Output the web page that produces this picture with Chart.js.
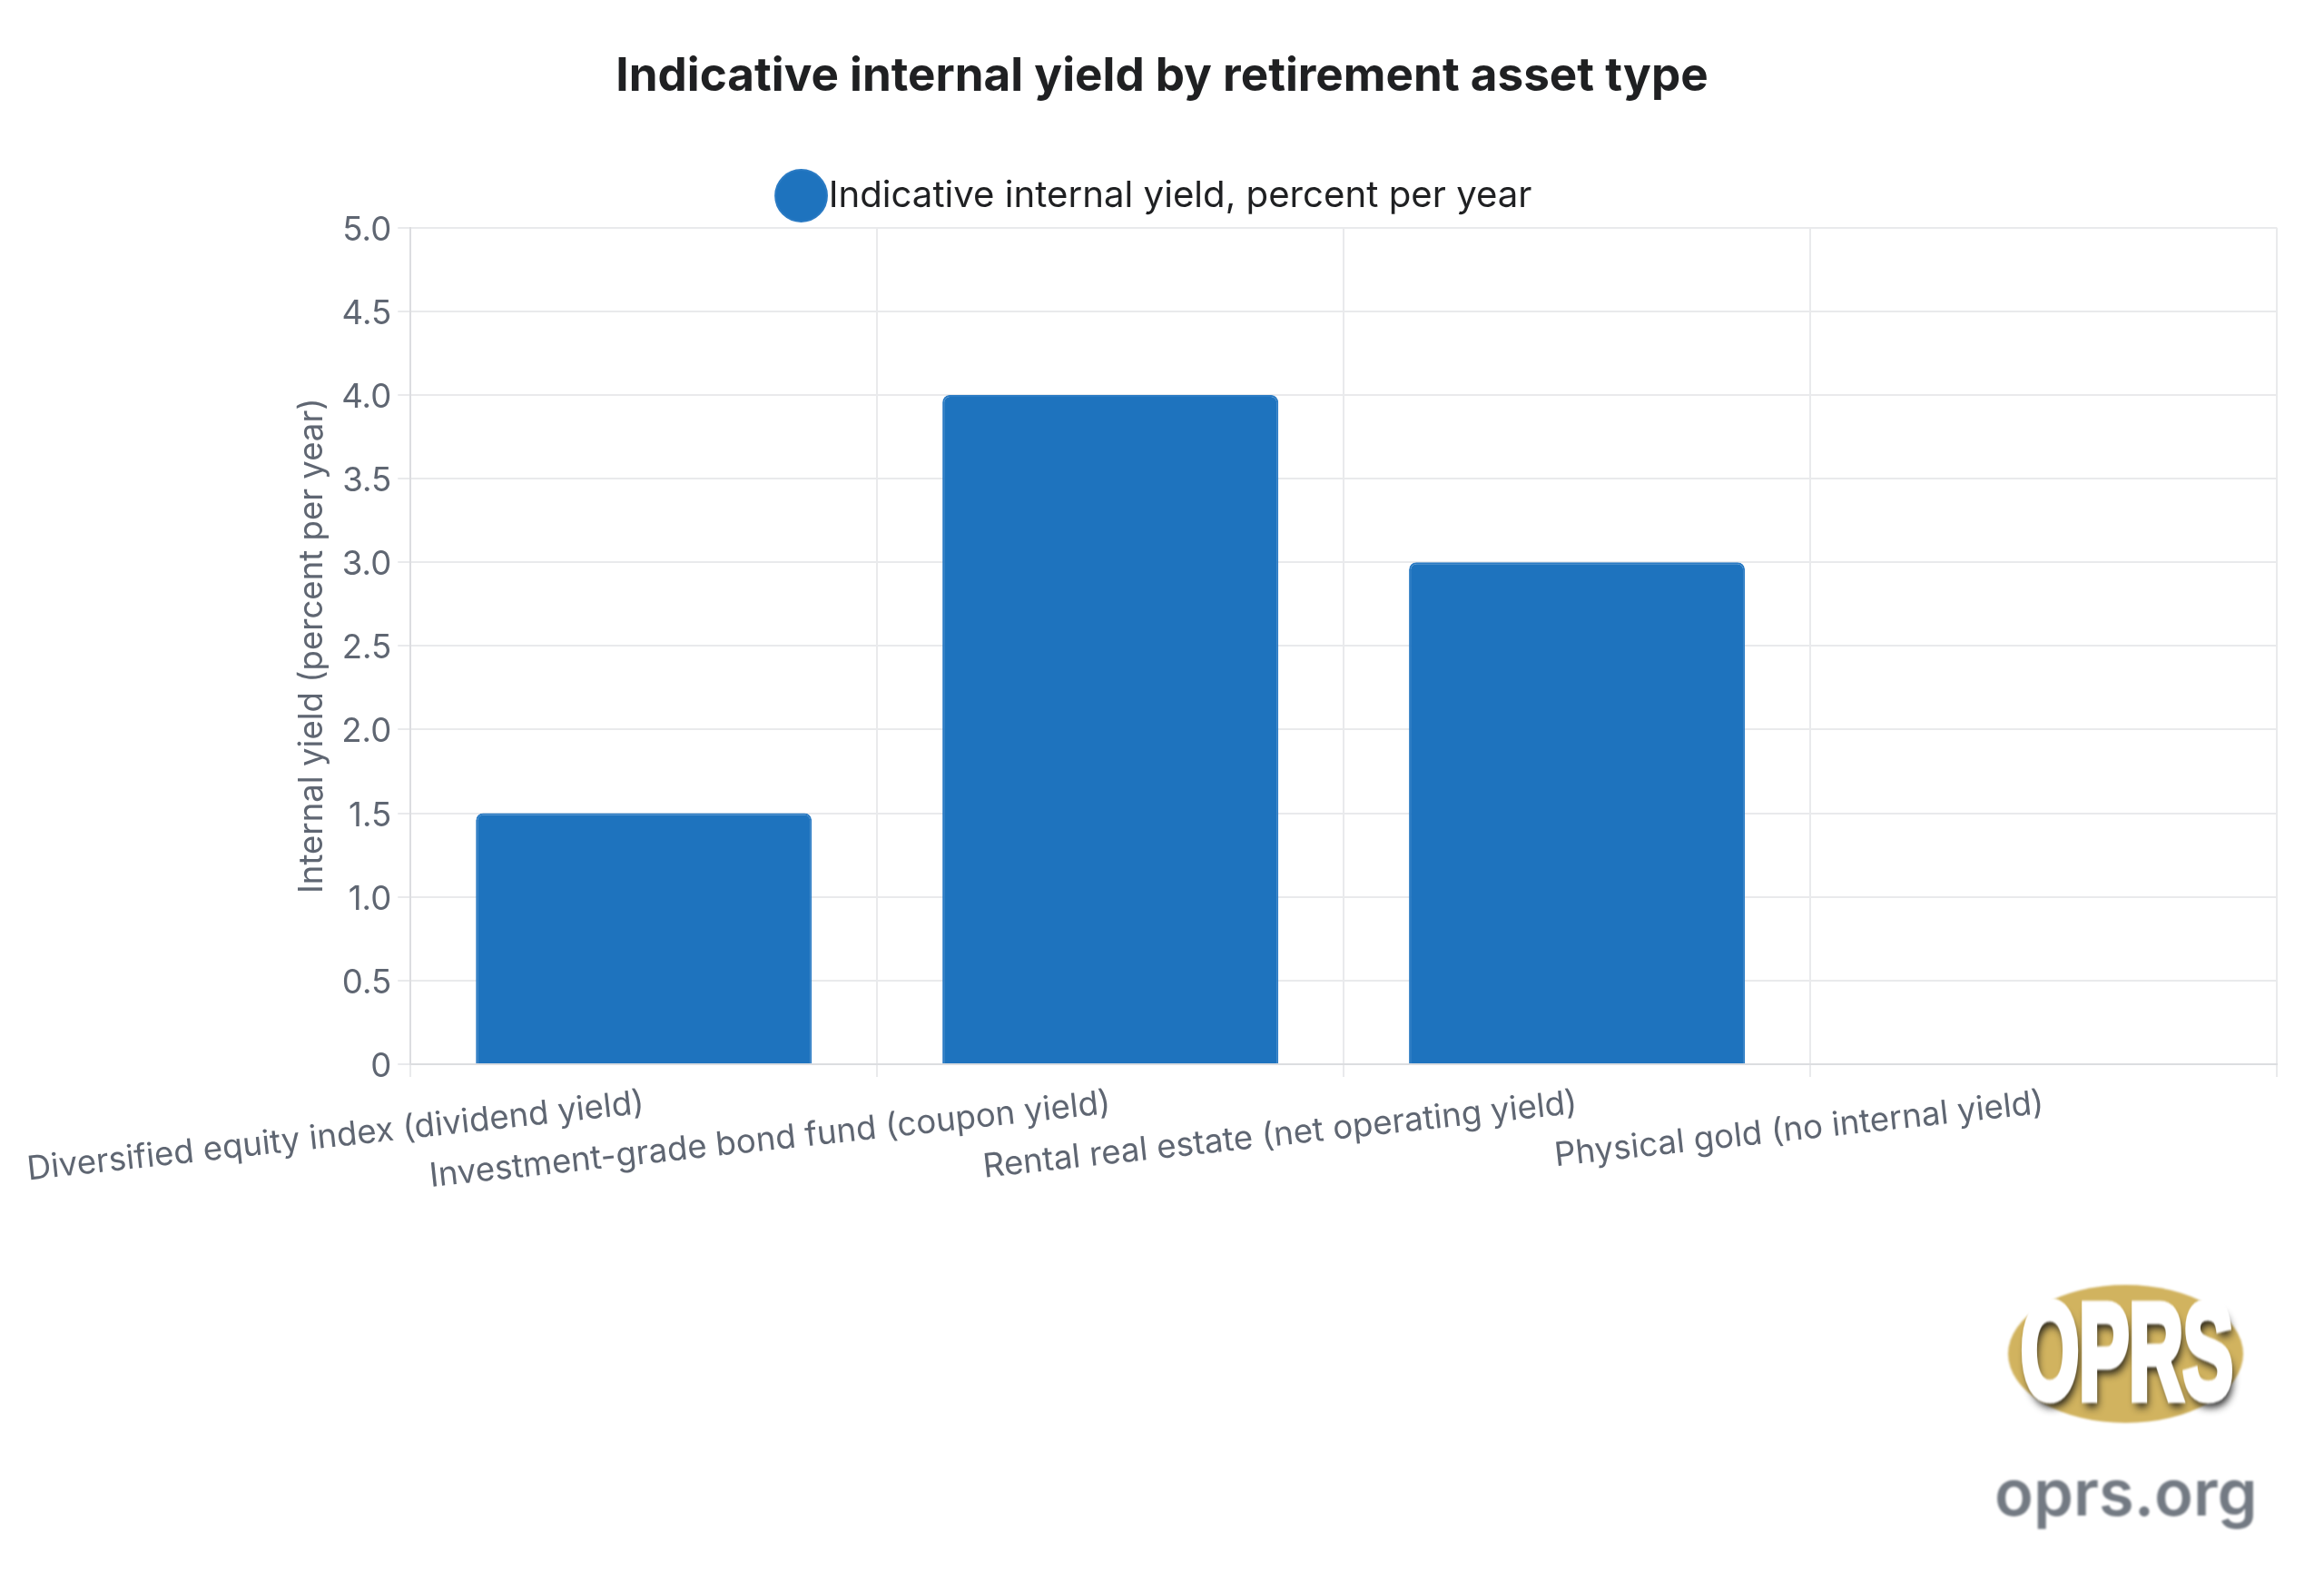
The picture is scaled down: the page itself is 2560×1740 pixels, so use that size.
<!DOCTYPE html>
<html>
<head>
<meta charset="utf-8">
<script src="https://cdn.jsdelivr.net/npm/chart.js@4"></script>
<style>
html,body{margin:0;padding:0;background:#fff;width:2560px;height:1740px;overflow:hidden}
#wrap{position:absolute;left:0;top:0;width:2560px;height:1325px}
canvas{display:block}
#logo{position:absolute;left:2212px;top:1415px;width:259px;height:152px;border-radius:50%;background:#d1b35f;filter:blur(.8px)}
#oprs{position:absolute;left:2343px;top:1420px;transform:translateX(-50%) scaleX(.55);transform-origin:center;font:700 150px/136px "Liberation Sans Narrow",sans-serif;color:#fff;-webkit-text-stroke:9px #fff;text-shadow:5px 9px 11px rgba(15,15,15,.9);filter:blur(.8px);white-space:nowrap}
#site{position:absolute;left:2197px;top:1599px;font:600 70.5px/90px Inter,sans-serif;color:#737a83;filter:blur(.8px);white-space:nowrap}
</style>
</head>
<body>
<div id="wrap"><canvas id="c" width="2560" height="1325"></canvas></div>
<div id="logo"></div>
<div id="oprs">OPRS</div>
<div id="site">oprs.org</div>
<script>
const categories = [
  "Diversified equity index (dividend yield)",
  "Investment-grade bond fund (coupon yield)",
  "Rental real estate (net operating yield)",
  "Physical gold (no internal yield)"
];
const yieldValues = [1.5, 4.0, 3.0, 0];
const seriesLabel = "Indicative internal yield, percent per year";
const chartTitle = "Indicative internal yield by retirement asset type";
const yAxisTitle = "Internal yield (percent per year)";

const gridColor = "#e9eaec";

const fineTune = {
  id: "fineTune",
  beforeInit(chart) {
    const legend = chart.legend;
    const fit = legend.fit;
    legend.fit = function () { fit.call(this); this.height += 5; };
  },
  afterLayout(chart) {
    const s = chart.scales.y;
    if (s._nudged) return;
    s._nudged = true;
    const compute = s._computeLabelItems;
    s._computeLabelItems = function (area) {
      const items = compute.call(this, area);
      items.forEach(function (it) {
        const t = it.options.translation;
        it.options.translation = [t[0], t[1] + 3];
      });
      return items;
    };
  }
};

new Chart(document.getElementById("c"), {
  type: "bar",
  plugins: [fineTune],
  data: {
    labels: categories,
    datasets: [{
      label: seriesLabel,
      data: yieldValues,
      backgroundColor: "#1e73be",
      borderColor: "#2b7bc4",
      borderWidth: 2,
      borderRadius: 8
    }]
  },
  options: {
    responsive: false,
    animation: false,
    devicePixelRatio: 1,
    layout: { padding: { left: 52, right: 52, top: 54, bottom: 0 } },
    plugins: {
      title: {
        display: true,
        text: chartTitle,
        color: "#1f2022",
        font: { family: "Inter", size: 51.2, weight: "700" },
        padding: { top: 0, bottom: 62 }
      },
      legend: {
        display: true,
        position: "top",
        labels: {
          usePointStyle: true,
          pointStyle: "circle",
          boxWidth: 20,
          color: "#1f2022",
          font: { family: "Inter", size: 40.2 },
          padding: 18
        }
      }
    },
    scales: {
      x: {
        grid: { color: gridColor, lineWidth: 2, tickLength: 14 },
        border: { color: "#dcdde0", width: 2 },
        ticks: {
          color: "#5f6672",
          font: { family: "Inter", size: 36.6 },
          autoSkip: false,
          minRotation: 6.2,
          maxRotation: 6.2,
          padding: 7
        }
      },
      y: {
        min: 0,
        max: 5,
        grid: { color: gridColor, lineWidth: 2, tickLength: 14 },
        border: { color: "#dcdde0", width: 2 },
        title: {
          display: true,
          text: yAxisTitle,
          color: "#5f6672",
          font: { family: "Inter", size: 36.6 },
          padding: 3
        },
        ticks: {
          stepSize: 0.5,
          color: "#5f6672",
          font: { family: "Inter", size: 36.6 },
          padding: 7,
          callback: function (v) { return v === 0 ? "0" : v.toFixed(1); }
        }
      }
    }
  }
});
</script>
</body>
</html>
